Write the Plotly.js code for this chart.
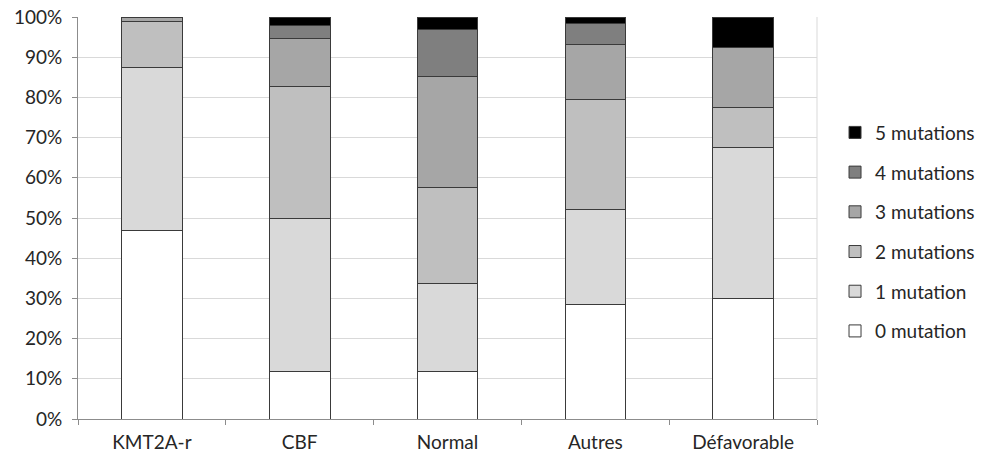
<!DOCTYPE html>
<html><head><meta charset="utf-8">
<script src="https://cdn.plot.ly/plotly-3.0.1.min.js"></script>
<style>body{margin:0;background:#fff}#c{width:984px;height:461px}</style>
</head><body><div id="c"></div>
<script>
const categories = ["KMT2A-r", "CBF", "Normal", "Autres", "Défavorable"];
const seriesNames = ["0 mutation", "1 mutation", "2 mutations", "3 mutations", "4 mutations", "5 mutations"];
const mut0 = [46.8, 11.7, 11.7, 28.5, 29.9];
const mut1 = [40.6, 38.3, 22.1, 23.5, 37.7];
const mut2 = [11.4, 32.6, 23.7, 27.4, 9.8];
const mut3 = [1.2, 12.0, 27.7, 13.8, 15.0];
const mut4 = [0, 3.2, 11.7, 5.3, 0];
const mut5 = [0, 2.2, 3.1, 1.5, 7.6];
const colors = ["#ffffff", "#d9d9d9", "#bfbfbf", "#a6a6a6", "#7f7f7f", "#000000"];
const yTicks = [0,10,20,30,40,50,60,70,80,90,100];

const series = [mut0, mut1, mut2, mut3, mut4, mut5];
const traces = series.map((vals, i) => ({
  type: "bar",
  name: seriesNames[i],
  x: categories,
  y: vals,
  legendgroup: "g" + i,
  legendrank: 100 - i,
  marker: {color: colors[i], line: {color: "#3a3a3a", width: 1}},
  hoverinfo: "skip"
}));

const fam = "Lato, 'Open Sans', sans-serif";
const font = {family: fam, size: 19, color: "#262626"};
Plotly.newPlot("c", traces, {
  width: 984, height: 461,
  barmode: "stack",
  bargap: 0.59,
  margin: {l: 78, r: 167, t: 17, b: 42},
  paper_bgcolor: "#fff", plot_bgcolor: "#fff",
  font: font,
  showlegend: true,
  legend: {
    traceorder: "grouped",
    tracegroupgap: 12,
    x: 0.8486, xref: "container", xanchor: "left",
    y: 0.465, yanchor: "middle",
    font: {family: fam, size: 19, color: "#262626"},
    itemwidth: 30
  },
  xaxis: {
    type: "category",
    showline: true, linecolor: "#8c8c8c", linewidth: 1,
    ticks: "outside", tickson: "boundaries", ticklen: 5, tickcolor: "#8c8c8c",
    ticklabelstandoff: 6,
    showgrid: false, zeroline: false,
    tickfont: font
  },
  yaxis: {
    range: [0, 100],
    tickvals: yTicks,
    ticktext: yTicks.map(v => v + "%"),
    showline: true, linecolor: "#8c8c8c", linewidth: 1,
    ticks: "outside", ticklen: 5, tickcolor: "#8c8c8c",
    ticklabelstandoff: 6,
    showgrid: true, gridcolor: "#d9d9d9", gridwidth: 1,
    zeroline: false,
    tickfont: font
  },
  shapes: [{type: "line", xref: "paper", yref: "paper", x0: 1, x1: 1, y0: 0, y1: 1, line: {color: "#d9d9d9", width: 1}}]
}, {displayModeBar: false, staticPlot: true});
</script>
</body></html>
